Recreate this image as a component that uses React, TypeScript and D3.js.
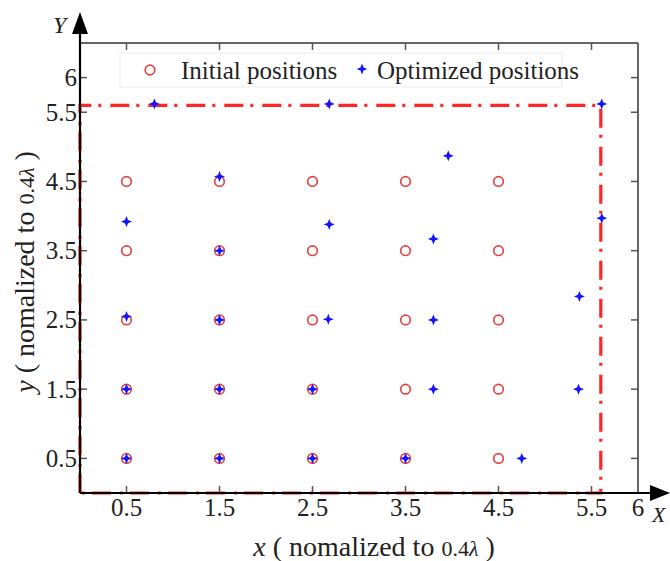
import React from 'react';
import * as d3 from 'd3';

// initial element grid (normalized to 0.4 lambda)
const initialX = [0.5, 1.5, 2.5, 3.5, 4.5];
const initialY = [0.5, 1.5, 2.5, 3.5, 4.5];

// optimized element positions
const optX = [0.5, 1.5, 2.5, 3.5, 4.75, 0.5, 1.5, 2.5, 3.8, 5.36, 0.5, 1.5, 2.67, 3.8, 5.37, 1.5, 0.5, 2.68, 3.8, 5.61, 1.5, 3.96, 0.8, 2.68, 5.61];
const optY = [0.5, 0.5, 0.5, 0.5, 0.5, 1.5, 1.5, 1.5, 1.5, 1.5, 2.55, 2.5, 2.51, 2.5, 2.84, 3.5, 3.92, 3.88, 3.67, 3.97, 4.57, 4.87, 5.62, 5.62, 5.62];

const xTicks = [0.5, 1.5, 2.5, 3.5, 4.5, 5.5, 6];
const yTicks = [0.5, 1.5, 2.5, 3.5, 4.5, 5.5, 6];
const boundary = 5.6;

const W = 670, H = 561;
const serif = { fontFamily: "'Liberation Serif', 'Times New Roman', serif" };

function starPath(cx: number, cy: number, r: number, ri: number) {
    const pts: [number, number][] = [];
    for (let i = 0; i < 8; i++) {
        const a = (i * Math.PI) / 4 - Math.PI / 2;
        const rr = i % 2 === 0 ? r : ri;
        pts.push([cx + rr * Math.cos(a), cy + rr * Math.sin(a)]);
    }
    return 'M' + pts.map(p => p.join(',')).join('L') + 'Z';
}

export default function App() {
    const x = d3.scaleLinear().domain([0, 6]).range([80, 638]);
    const y = d3.scaleLinear().domain([0, 6.5]).range([493, 43]);

    const rectLine = d3.line<[number, number]>()
        .x(d => x(d[0]))
        .y(d => y(d[1]));
    const rectPts: [number, number][] = [[0, 0], [0, boundary], [boundary, boundary], [boundary, 0], [0, 0]];

    const initial: [number, number][] = [];
    initialY.forEach(yy => initialX.forEach(xx => initial.push([xx, yy])));

    const red = '#e04646';
    const blue = '#1414ff';

    return (
        <svg width={W} height={H} style={{ position: 'absolute', left: 0, top: 0, background: '#fff' }}>
            <rect width={W} height={H} fill="#fff" />

            {/* frame top / right */}
            <line x1={x(0)} x2={x(6)} y1={y(6.5)} y2={y(6.5)} stroke="#666" strokeWidth={2} />
            <line x1={x(6)} x2={x(6)} y1={y(6.5)} y2={y(0)} stroke="#666" strokeWidth={2} />

            {/* inward ticks */}
            {xTicks.filter(t => t < 6).map(t => (
                <g key={'xt' + t}>
                    <line x1={x(t)} x2={x(t)} y1={y(6.5)} y2={y(6.5) + 7} stroke="#555" strokeWidth={1.5} />
                    <line x1={x(t)} x2={x(t)} y1={y(0)} y2={y(0) - 7} stroke="#555" strokeWidth={1.5} />
                </g>
            ))}
            {yTicks.map(t => (
                <g key={'yt' + t}>
                    <line x1={x(6)} x2={x(6) - 7} y1={y(t)} y2={y(t)} stroke="#555" strokeWidth={1.5} />
                    <line x1={x(0)} x2={x(0) + 7} y1={y(t)} y2={y(t)} stroke="#555" strokeWidth={1.5} />
                </g>
            ))}

            {/* legend */}
            <rect x={120} y={53} width={442} height={34} fill="#fff" stroke="#ececec" strokeWidth={1} />
            <circle cx={150} cy={70} r={4.8} fill="none" stroke={red} strokeWidth={1.7} />
            <text x={181} y={79} fontSize={25} fill="#222" style={serif}>Initial positions</text>
            <path d={starPath(362, 69, 5.5, 2.2)} fill={blue} />
            <text x={377} y={79} fontSize={25} fill="#222" style={serif}>Optimized positions</text>

            {/* boundary rectangle */}
            <path d={rectLine(rectPts) || ''} fill="none" stroke="#ff2626" strokeWidth={3.2} strokeDasharray="19,7,3,9" />

            {/* initial positions */}
            {initial.map((d, i) => (
                <circle key={'i' + i} cx={x(d[0])} cy={y(d[1])} r={4.8} fill="none" stroke={red} strokeWidth={1.7} />
            ))}

            {/* optimized positions */}
            {optX.map((v, i) => (
                <path key={'o' + i} d={starPath(x(v), y(optY[i]), 5.5, 2.2)} fill={blue} />
            ))}

            {/* main axes with arrows */}
            <line x1={x(0)} x2={652} y1={y(0)} y2={y(0)} stroke="#000" strokeWidth={2.2} />
            <path d={`M650,${y(0) - 8}L670,${y(0)}L650,${y(0) + 8}Z`} fill="#000" />
            <line x1={x(0)} x2={x(0)} y1={y(0)} y2={32} stroke="#000" strokeWidth={2.2} />
            <path d={`M${x(0) - 8},34L${x(0)},12L${x(0) + 8},34Z`} fill="#000" />

            {/* tick labels */}
            {xTicks.map(t => (
                <text key={'xl' + t} x={x(t)} y={516} fontSize={25} textAnchor="middle" fill="#222" style={serif}>{String(t)}</text>
            ))}
            {yTicks.map(t => (
                <text key={'yl' + t} x={77} y={y(t) + 8.5} fontSize={25} textAnchor="end" fill="#222" style={serif}>{String(t)}</text>
            ))}

            <text x={53} y={33} fontSize={24} fontStyle="italic" fill="#222" style={serif}>Y</text>
            <text x={652} y={522} fontSize={22} fontStyle="italic" fill="#222" style={serif}>X</text>

            {/* axis titles */}
            <text x={374} y={556} fontSize={28} textAnchor="middle" fill="#222" style={serif}>
                <tspan fontStyle="italic">x</tspan> ( nomalized to <tspan fontSize={22}>0.4</tspan><tspan fontSize={22} fontStyle="italic">λ</tspan> )
            </text>
            <text transform="translate(34,272) rotate(-90)" fontSize={28} textAnchor="middle" fill="#222" style={serif}>
                <tspan fontStyle="italic">y</tspan> ( nomalized to <tspan fontSize={22}>0.4</tspan><tspan fontSize={22} fontStyle="italic">λ</tspan> )
            </text>
        </svg>
    );
}
